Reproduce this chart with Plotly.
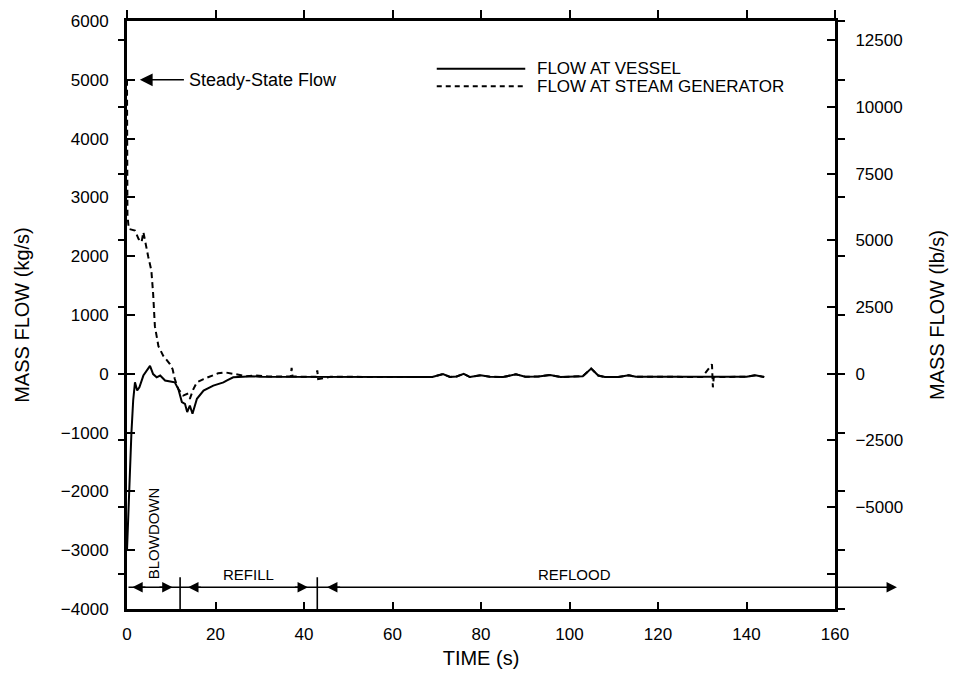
import plotly.graph_objects as go

# ---------------- data ----------------
time_vessel = [0, 0.5, 1.0, 1.4, 1.8, 2.3, 2.8, 3.7, 4.5, 5.2, 5.9, 6.7, 7.5, 8.6, 10.1, 10.8,
               11.6, 12.4, 13.1, 13.6, 14.2, 14.8, 15.8, 17.3, 19.5, 21.8, 22.5, 24, 26.3, 28,
               30, 33, 36, 40, 45, 50, 55, 60, 65, 69, 71.4, 73, 74.5, 76.1, 77.5, 79.9, 82,
               85, 87.9, 90, 93, 95.6, 98, 101, 103, 104.9, 106.5, 108, 111, 113.4, 115, 120,
               125, 130, 135, 140, 142, 144]
flow_vessel = [-3000, -1800, -1000, -450, -145, -285, -230, -30, 60, 135, -5, -60, -30, -115, -135, -145,
               -260, -480, -510, -650, -540, -680, -425, -285, -200, -145, -115, -60, -50, -40,
               -50, -50, -45, -50, -50, -55, -55, -55, -55, -55, -5, -55, -45, 0, -55, -25, -50,
               -55, -10, -50, -45, -20, -55, -50, -40, 90, -30, -55, -55, -25, -50, -50,
               -50, -55, -55, -50, -25, -55]

time_sg = [0, 0.03, 0.1, 0.4, 1.8, 2.6, 3.3, 3.7, 4.1, 4.8, 5.5, 5.9, 6.3, 7.1, 8.2, 9.7, 10.3,
           10.8, 11.6, 12.7, 13.6, 14.2, 15, 15.8, 17.3, 19.1, 20.6, 22.1, 24, 25.5, 27, 29, 32,
           35, 37.0, 37.2, 37.4, 40, 42.8, 43.0, 43.2, 46, 50, 55, 60, 65, 69, 71.4, 73, 74.5,
           76.1, 77.5, 79.9, 82, 85, 87.9, 90, 93, 95.6, 98, 101, 103, 104.9, 106.5, 108, 111,
           113.4, 115, 120, 125, 130, 132.2, 132.4, 132.6, 135, 140, 142, 144]
flow_sg = [5000, 3600, 2700, 2465, 2435, 2295, 2240, 2410, 2240, 1990, 1760, 1370, 810, 470, 305, 165, 80,
           -90, -260, -370, -340, -425, -260, -145, -90, -30, 10, 25, -5, -20, -40, -30, -45,
           -45, -45, 100, -45, -50, -50, 60, -90, -50, -55, -55, -55, -55, -55, -5, -55, -45,
           0, -55, -25, -50, -55, -10, -50, -45, -20, -55, -50, -40, 90, -30, -55, -55,
           -25, -50, -50, -50, -55, 160, -230, -55, -55, -50, -25, -55]

x_ticks = [0, 20, 40, 60, 80, 100, 120, 140, 160]
kg_ticks = [-4000, -3000, -2000, -1000, 0, 1000, 2000, 3000, 4000, 5000, 6000]
kg_labels = ["\u22124000", "\u22123000", "\u22122000", "\u22121000", "0", "1000", "2000",
             "3000", "4000", "5000", "6000"]
lb_ticks = [-7500, -5000, -2500, 0, 2500, 5000, 7500, 10000, 12500]
lb_labels = ["", "\u22125000", "\u22122500", "0", "2500", "5000", "7500", "10000", "12500"]
kg_range = [-4000, 6000]
KG_TO_LB = 2.20462
lb_range = [kg_range[0] * KG_TO_LB, kg_range[1] * KG_TO_LB]

phase_bounds = [0, 12, 43]
phase_names = ["BLOWDOWN", "REFILL", "REFLOOD"]
series_names = ["FLOW AT VESSEL", "FLOW AT STEAM GENERATOR"]
steady_state_flow = 5000

# ---------------- figure ----------------
FONT = "Arial"
fig = go.Figure()

fig.add_trace(go.Scatter(x=time_vessel, y=flow_vessel, mode="lines", name=series_names[0],
                         line=dict(color="black", width=2), showlegend=False))
fig.add_trace(go.Scatter(x=time_sg, y=flow_sg, mode="lines", name=series_names[1],
                         line=dict(color="black", width=2, dash="6px,4px"), showlegend=False))

# dummy traces so the extra axes are drawn
for xa, ya in [("x2", "y3"), ("x", "y2"), ("x", "y4")]:
    fig.add_trace(go.Scatter(x=[None], y=[None], xaxis=xa, yaxis=ya, showlegend=False,
                             hoverinfo="skip"))

tickfont = dict(family=FONT, size=17, color="black")
titlefont = dict(family=FONT, size=20, color="black")

fig.update_layout(
    width=959, height=679,
    margin=dict(l=127, r=124, t=15, b=70),
    paper_bgcolor="white", plot_bgcolor="white",
    xaxis=dict(range=[0, 160], tickvals=x_ticks, ticks="inside", ticklen=7, tickwidth=2,
               tickcolor="black", showline=True, linewidth=3, linecolor="black",
               showgrid=False, zeroline=False, tickfont=tickfont, ticklabelstandoff=8,
               title=dict(text="TIME (s)", font=titlefont, standoff=8)),
    xaxis2=dict(range=[0, 160], overlaying="x", side="top", tickvals=x_ticks, ticks="outside",
                ticklen=8, tickwidth=2, tickcolor="black", showticklabels=False,
                showline=True, linewidth=3, linecolor="black", showgrid=False, zeroline=False),
    yaxis=dict(range=kg_range, tickvals=kg_ticks, ticktext=kg_labels, ticks="inside", ticklen=8,
               tickwidth=2, tickcolor="black", showline=True, linewidth=3, linecolor="black",
               showgrid=False, zeroline=False, tickfont=tickfont, ticklabelstandoff=12,
               title=dict(text="MASS FLOW (kg/s)", font=titlefont, standoff=26)),
    yaxis3=dict(range=lb_range, tickvals=lb_ticks, overlaying="y", side="left", ticks="outside",
                ticklen=8, tickwidth=2, tickcolor="black", showticklabels=False,
                showline=False, showgrid=False, zeroline=False),
    yaxis2=dict(range=lb_range, tickvals=lb_ticks, ticktext=lb_labels, overlaying="y",
                side="right", ticks="inside", ticklen=8, tickwidth=2, tickcolor="black",
                showline=True, linewidth=3, linecolor="black", showgrid=False, zeroline=False,
                tickfont=tickfont, ticklabelstandoff=14,
                title=dict(text="MASS FLOW (lb/s)", font=titlefont, standoff=28)),
    yaxis4=dict(range=kg_range, tickvals=kg_ticks, overlaying="y", side="right", ticks="outside",
                ticklen=9, tickwidth=2, tickcolor="black", showticklabels=False,
                showline=False, showgrid=False, zeroline=False),
)

annotations = []
# Steady-state flow arrow and label
annotations.append(dict(x=2.9, y=steady_state_flow, ax=13.2, ay=steady_state_flow,
                        xref="x", yref="y", axref="x", ayref="y", text="", showarrow=True,
                        arrowhead=2, arrowsize=1.6, arrowwidth=1.6, arrowcolor="black"))
annotations.append(dict(x=13.6, y=steady_state_flow, xref="x", yref="y", text="Steady-State Flow",
                        showarrow=False, xanchor="left", yanchor="middle",
                        font=dict(family=FONT, size=18, color="black")))

# phase arrow line
arrow_y = -3630
annotations.append(dict(x=174, y=arrow_y, ax=0, ay=arrow_y, xref="x", yref="y", axref="x",
                        ayref="y", text="", showarrow=True, arrowhead=2, arrowsize=1.3,
                        arrowwidth=1.6, arrowcolor="black"))
for tip, tail in [(1.2, 4.5), (10.3, 7.0), (13.8, 17.0), (40.9, 37.6), (45.2, 48.5)]:
    annotations.append(dict(x=tip, y=arrow_y, ax=tail, ay=arrow_y, xref="x", yref="y",
                            axref="x", ayref="y", text="", showarrow=True, arrowhead=2,
                            arrowsize=1.3, arrowwidth=1.6, arrowcolor="black"))

phase_font = dict(family=FONT, size=15, color="black")
annotations.append(dict(x=6.0, y=-2720, xref="x", yref="y", text=phase_names[0], textangle=-90,
                        showarrow=False, font=phase_font))
annotations.append(dict(x=27.4, y=-3410, xref="x", yref="y", text=phase_names[1],
                        showarrow=False, font=phase_font))
annotations.append(dict(x=101.2, y=-3410, xref="x", yref="y", text=phase_names[2],
                        showarrow=False, font=phase_font))

# legend text
legend_font = dict(family=FONT, size=17, color="black")
annotations.append(dict(x=92.2, y=5190, xref="x", yref="y", text=series_names[0], showarrow=False,
                        xanchor="left", yanchor="middle", font=legend_font))
annotations.append(dict(x=92.2, y=4890, xref="x", yref="y", text=series_names[1], showarrow=False,
                        xanchor="left", yanchor="middle", font=legend_font))

shapes = []
for b in phase_bounds[1:]:
    shapes.append(dict(type="line", xref="x", yref="y", x0=b, x1=b, y0=-3460, y1=-4000,
                       line=dict(color="black", width=1.6)))
# legend samples
shapes.append(dict(type="line", xref="x", yref="y", x0=70.0, x1=90.0, y0=5190, y1=5190,
                   line=dict(color="black", width=2)))
shapes.append(dict(type="line", xref="x", yref="y", x0=70.0, x1=90.0, y0=4890, y1=4890,
                   line=dict(color="black", width=2, dash="5px,4px")))

fig.update_layout(annotations=annotations, shapes=shapes)

fig.write_html("out.html")
